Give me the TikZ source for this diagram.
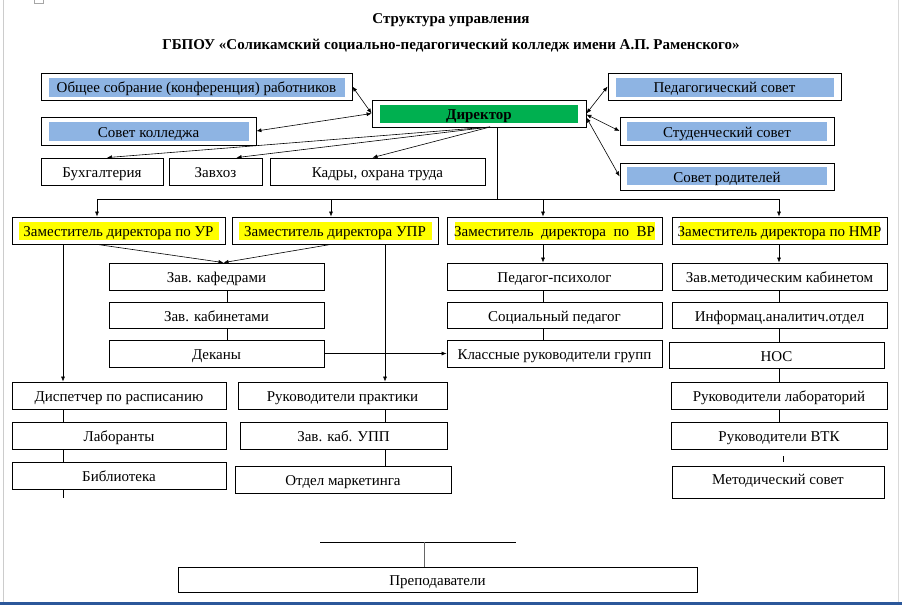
\documentclass[tikz,border=0pt]{standalone}
\usepackage{fontspec}
\setmainfont{Liberation Serif}
\usetikzlibrary{arrows.meta,calc}
\definecolor{sinij}{HTML}{8EB4E3}
\definecolor{zelen}{HTML}{00B050}
\definecolor{zhelt}{HTML}{FFFF00}
\definecolor{polosa}{HTML}{2B579A}

\begin{document}
\begin{tikzpicture}[x=1pt, y=-1pt, >={Latex[length=5pt,width=4pt]},
    box/.style={draw, line width=0.8pt, inner sep=0pt, minimum height=27,
        text height=12pt, text depth=0pt, font=\fontsize{15}{17}\selectfont},
    fon/.style n args={5}{path picture={\fill[#1]
        ([xshift=#2,yshift=-#3]path picture bounding box.north west) rectangle
        ([xshift=-#4,yshift=#5]path picture bounding box.south east);}},
    svyaz/.style={line width=0.6pt},
    zag/.style={font=\bfseries\fontsize{15}{17}\selectfont}]
    \useasboundingbox (0,0) rectangle (902,605);

    % 1. Заголовок
    \node[zag] (zag1) at (451,20) {Структура управления};
    \node[zag] (zag2) at (451,46) {ГБПОУ «Соликамский социально-педагогический колледж имени А.П. Раменского»};

    % 2. Директор и советы
    \node[box, minimum width=214, fon={zelen}{8pt}{5pt}{8pt}{4pt}, font=\bfseries\fontsize{15}{17}\selectfont] (dir) at (479,113.5) {Директор};
    \node[box, minimum width=311, fon={sinij}{8pt}{5pt}{7pt}{3pt}] (gen) at (196.5,86.5) {Общее собрание (конференция) работников\hspace{12pt}};
    \node[box, minimum width=215, minimum height=28, fon={sinij}{8pt}{5pt}{7pt}{4pt}] (sovk) at (148.5,131) {Совет колледжа};
    \node[box, minimum width=233, fon={sinij}{8pt}{5pt}{7pt}{3pt}] (ped) at (724.5,86.5) {Педагогический совет};
    \node[box, minimum width=214, minimum height=28, fon={sinij}{7pt}{5pt}{7pt}{4pt}] (stud) at (727,131) {Студенческий совет};
    \node[box, minimum width=214, fon={sinij}{7pt}{4pt}{7pt}{5pt}] (rod) at (727,176.5) {Совет родителей};

    % 3. Службы при директоре
    \node[box, minimum width=122] (buh) at (102,171.5) {Бухгалтерия};
    \node[box, minimum width=93] (zavhoz) at (215.5,171.5) {Завхоз};
    \node[box, minimum width=215] (kadry) at (377.5,171.5) {Кадры, охрана труда};

    % 4. Заместители
    \node[box, minimum width=213, fon={zhelt}{7pt}{5pt}{6pt}{4pt}] (ur) at (118.5,230.5) {Заместитель директора по УР\hspace{8pt}};
    \node[box, minimum width=206, fon={zhelt}{7pt}{5pt}{6pt}{4pt}] (upr) at (335,230.5) {Заместитель директора УПР\hspace{9pt}};
    \node[box, minimum width=215, fon={zhelt}{8pt}{5pt}{7pt}{4pt}] (vr) at (554.5,230.5) {Заместитель\ \ директора\ \ по\ \ ВР};
    \node[box, minimum width=215, fon={zhelt}{8pt}{5pt}{7pt}{4pt}] (nmr) at (779.5,230.5) {Заместитель директора по НМР\hspace{7pt}};

    % 5. Подразделения
    \node[box, minimum width=215] (kaf) at (216.5,276.5) {Зав. кафедрами};
    \node[box, minimum width=215, minimum height=26] (kab) at (216.5,315) {Зав. кабинетами};
    \node[box, minimum width=215] (dek) at (216.5,353.5) {Деканы};

    \node[box, minimum width=215] (psy) at (554.5,276.5) {Педагог-психолог};
    \node[box, minimum width=215, minimum height=26] (soc) at (554.5,315) {Социальный педагог};
    \node[box, minimum width=215] (kl) at (554.5,353.5) {Классные руководители групп};

    \node[box, minimum width=215] (zmk) at (779.5,276.5) {Зав.методическим кабинетом\hspace{12pt}};
    \node[box, minimum width=215, minimum height=26] (inf) at (779.5,315) {Информац.аналитич.отдел};
    \node[box, minimum width=215, minimum height=26] (nos) at (776.5,355) {НОС};
    \node[box, minimum width=216] (lab) at (779,395.5) {Руководители лабораторий};
    \node[box, minimum width=216] (vtk) at (779,435.5) {Руководители ВТК};
    \node[box, minimum width=212, minimum height=32, text depth=8pt] (met) at (778,482) {Методический совет};

    \node[box, minimum width=214] (disp) at (119,395.5) {Диспетчер по расписанию};
    \node[box, minimum width=214] (labor) at (119,435.5) {Лаборанты};
    \node[box, minimum width=214] (bib) at (119,475.5) {Библиотека};

    \node[box, minimum width=209] (rp) at (342.5,395.5) {Руководители практики};
    \node[box, minimum width=207] (upp) at (343.5,435.5) {Зав. каб. УПП};
    \node[box, minimum width=216] (mark) at (343,479.5) {Отдел маркетинга};

    \node[box, minimum width=519, minimum height=25] (prep) at (437.5,579.5) {Преподаватели};

    % 6. Связи директора
    \coordinate (dirniz) at (490,127);
    \draw[svyaz, <->] (gen.east) -- (dir.west);
    \draw[svyaz, <->] (sovk.east) -- (dir.west);
    \draw[svyaz, <->] (dir.east) -- (ped.west);
    \draw[svyaz, <->] ([yshift=-1pt]dir.east) -- (stud.west);
    \draw[svyaz, <->] ([yshift=-4pt]dir.east) -- (rod.west);
    \draw[svyaz, ->] (dirniz) -- ([xshift=5pt]buh.north);
    \draw[svyaz, ->] (dirniz) -- ([xshift=21pt]zavhoz.north);
    \draw[svyaz, ->] (dirniz) -- ([xshift=-5pt]kadry.north);

    % 7. Шина к заместителям
    \coordinate (shina) at (497,199);
    \coordinate (s1) at (97,199);
    \coordinate (s2) at (331,199);
    \coordinate (s3) at (543,199);
    \coordinate (s4) at (779,199);
    \draw[svyaz] (dir.south -| shina) -- (shina);
    \draw[svyaz] (s1) -- (s4);
    \foreach \s/\z in {s1/ur, s2/upr, s3/vr, s4/nmr}
        \draw[svyaz, ->] (\s) -- (\s |- \z.north);

    % 8. Вертикали внутри ветвей
    \coordinate (lev) at (63,0);
    \coordinate (prav) at (385,0);
    \coordinate (kafl) at (227,0);
    \coordinate (vrl) at (543,0);
    \coordinate (nml) at (779,0);
    \draw[svyaz, ->] (s1 |- ur.south) -- ([xshift=7pt]kaf.north);
    \draw[svyaz, ->] (upr.south -| s2) -- ([xshift=7pt]kaf.north);
    \draw[svyaz] (kaf.south -| kafl) -- (kab.north -| kafl);
    \draw[svyaz] (kab.south -| kafl) -- (dek.north -| kafl);
    \draw[svyaz, ->] (dek.east) -- (kl.west);

    \draw[svyaz, ->] (ur.south -| lev) -- (disp.north -| lev);
    \draw[svyaz] (disp.south -| lev) -- (labor.north -| lev);
    \draw[svyaz] (labor.south -| lev) -- (bib.north -| lev);
    \draw[svyaz] (bib.south -| lev) -- ++(0,9);

    \draw[svyaz, ->] (upr.south -| prav) -- (rp.north -| prav);
    \draw[svyaz] (rp.south -| prav) -- (upp.north -| prav);
    \draw[svyaz] (upp.south -| prav) -- (mark.north -| prav);

    \draw[svyaz, ->] (vr.south -| vrl) -- (psy.north -| vrl);
    \draw[svyaz] (psy.south -| vrl) -- (soc.north -| vrl);
    \draw[svyaz] (soc.south -| vrl) -- (kl.north -| vrl);

    \draw[svyaz, ->] (nmr.south -| nml) -- (zmk.north -| nml);
    \draw[svyaz] (zmk.south -| nml) -- (inf.north -| nml);
    \draw[svyaz] (inf.south -| nml) -- (nos.north -| nml);
    \draw[svyaz] (nos.south -| nml) -- (lab.north -| nml);
    \draw[svyaz] (lab.south -| nml) -- (vtk.north -| nml);
    \draw[svyaz] ([xshift=4pt,yshift=-7pt]vtk.south) -- ([xshift=5pt,yshift=4pt]met.north);

    % 9. Преподаватели
    \coordinate (nizL) at (320,542);
    \coordinate (nizR) at (516,542);
    \coordinate (nizM) at (424,542);
    \draw[svyaz] (nizL) -- (nizR);
    \draw[svyaz, gray!80!black] (nizM) -- (nizM |- prep.north);

    % 10. Края окна
    \draw[gray!40, line width=1pt] (3,0) -- (3,602);
    \draw[gray!30, line width=1pt] (898,0) -- (898,602);
    \draw[gray!70] (34,-1) rectangle (43,3);
    \fill[polosa] (0,602) rectangle (902,605);
\end{tikzpicture}
\end{document}
